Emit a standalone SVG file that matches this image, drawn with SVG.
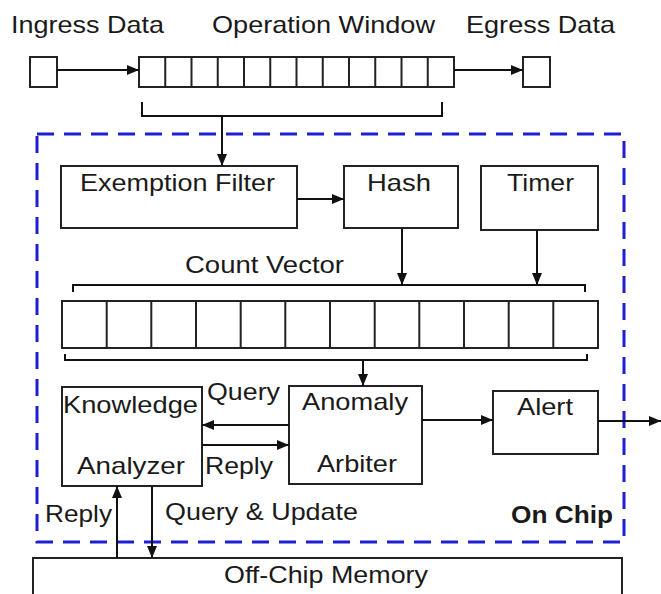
<svg xmlns="http://www.w3.org/2000/svg" width="661" height="594" viewBox="0 0 661 594">
  <defs>
    <marker id="ah" markerWidth="12" markerHeight="10" refX="12" refY="5" orient="auto" markerUnits="userSpaceOnUse">
      <path d="M0,0 L12,5 L0,10 Z" fill="#111"/>
    </marker>
    <style>
      text { font-family: "Liberation Sans", Arial, sans-serif; font-size: 24px; fill: #1a1a1a; }
      .bold { font-weight: bold; }
      .box { fill: #fff; stroke: #222; stroke-width: 2; }
      .cell { fill: none; stroke: #222; stroke-width: 2; }
      .wire { fill: none; stroke: #111; stroke-width: 2; }
      .arrow { fill: none; stroke: #111; stroke-width: 2; marker-end: url(#ah); }
      .chip { fill: none; stroke: #1e1ed2; stroke-width: 3; stroke-dasharray: 17 10; }
    </style>
  </defs>

  <rect width="661" height="594" fill="#fff"/>

  <!-- on-chip boundary -->
  <g id="on-chip">
    <rect class="chip" x="37" y="134" width="587" height="408"/>
    <text class="bold" x="511" y="523" textLength="102" lengthAdjust="spacingAndGlyphs">On Chip</text>
  </g>

  <!-- labels above the data stream -->
  <g id="stream-labels">
    <text x="11" y="33" textLength="153" lengthAdjust="spacingAndGlyphs">Ingress Data</text>
    <text x="212" y="33" textLength="223" lengthAdjust="spacingAndGlyphs">Operation Window</text>
    <text x="466" y="33" textLength="149" lengthAdjust="spacingAndGlyphs">Egress Data</text>
  </g>

  <g id="ingress">
    <rect class="box" x="30" y="57" width="27" height="30"/>
  </g>

  <g id="operation-window">
    <rect class="box" x="139" y="57" width="315" height="30"/>
    <path class="cell" d="M165.25,57V87 M191.5,57V87 M217.75,57V87 M244,57V87 M270.25,57V87 M296.5,57V87 M322.75,57V87 M349,57V87 M375.25,57V87 M401.5,57V87 M427.75,57V87"/>
  </g>

  <g id="egress">
    <rect class="box" x="523" y="57" width="27" height="30"/>
  </g>

  <g id="exemption-filter">
    <rect class="box" x="61" y="166" width="236" height="62"/>
    <text x="80" y="191" textLength="195" lengthAdjust="spacingAndGlyphs">Exemption Filter</text>
  </g>

  <g id="hash">
    <rect class="box" x="344" y="166" width="114" height="62"/>
    <text x="367" y="191" textLength="64" lengthAdjust="spacingAndGlyphs">Hash</text>
  </g>

  <g id="timer">
    <rect class="box" x="481" y="166" width="117" height="64"/>
    <text x="507" y="191" textLength="67" lengthAdjust="spacingAndGlyphs">Timer</text>
  </g>

  <g id="count-vector">
    <text x="185" y="273" textLength="159" lengthAdjust="spacingAndGlyphs">Count Vector</text>
    <rect class="box" x="62" y="301" width="536" height="47"/>
    <path class="cell" d="M106.7,301V348 M151.3,301V348 M196,301V348 M240.7,301V348 M285.3,301V348 M330,301V348 M374.7,301V348 M419.3,301V348 M464,301V348 M508.7,301V348 M553.3,301V348"/>
  </g>

  <g id="knowledge-analyzer">
    <rect class="box" x="62" y="387" width="140" height="99"/>
    <text x="63" y="413" textLength="135" lengthAdjust="spacingAndGlyphs">Knowledge</text>
    <text x="77" y="474" textLength="108" lengthAdjust="spacingAndGlyphs">Analyzer</text>
  </g>

  <g id="anomaly-arbiter">
    <rect class="box" x="289" y="386" width="133" height="98"/>
    <text x="302" y="410" textLength="106" lengthAdjust="spacingAndGlyphs">Anomaly</text>
    <text x="317" y="472" textLength="80" lengthAdjust="spacingAndGlyphs">Arbiter</text>
  </g>

  <g id="alert">
    <rect class="box" x="493" y="391" width="105" height="63"/>
    <text x="517" y="415" textLength="56" lengthAdjust="spacingAndGlyphs">Alert</text>
  </g>

  <g id="off-chip-memory">
    <rect class="box" x="33" y="558" width="589" height="50"/>
    <text x="224" y="583" textLength="204" lengthAdjust="spacingAndGlyphs">Off-Chip Memory</text>
  </g>

  <g id="connectors">
    <!-- data stream -->
    <path class="arrow" d="M57,70H139"/>
    <path class="arrow" d="M454,70H523"/>
    <!-- window bracket into the filter -->
    <path class="wire" d="M142,102V116H442V102"/>
    <path class="arrow" d="M222,116V166"/>
    <path class="arrow" d="M297,199H344"/>
    <!-- hash and timer into the count vector -->
    <path class="wire" d="M73,292V285H585V292"/>
    <path class="arrow" d="M402,229V285"/>
    <path class="arrow" d="M537,230V285"/>
    <!-- count vector bracket into the arbiter -->
    <path class="wire" d="M65,354V360H587V354"/>
    <path class="arrow" d="M363,360V386"/>
    <!-- arbiter and analyzer exchange -->
    <path class="arrow" d="M289,425H202"/>
    <path class="arrow" d="M202,445H289"/>
    <text x="207" y="400" textLength="73" lengthAdjust="spacingAndGlyphs">Query</text>
    <text x="205" y="474" textLength="68" lengthAdjust="spacingAndGlyphs">Reply</text>
    <!-- alert path -->
    <path class="arrow" d="M422,420H493"/>
    <path class="arrow" d="M598,421H661"/>
    <!-- off-chip memory traffic -->
    <path class="arrow" d="M117,558V486"/>
    <path class="arrow" d="M152,486V558"/>
    <text x="45" y="522" textLength="67" lengthAdjust="spacingAndGlyphs">Reply</text>
    <text x="165" y="520" textLength="193" lengthAdjust="spacingAndGlyphs">Query &amp; Update</text>
  </g>
</svg>
